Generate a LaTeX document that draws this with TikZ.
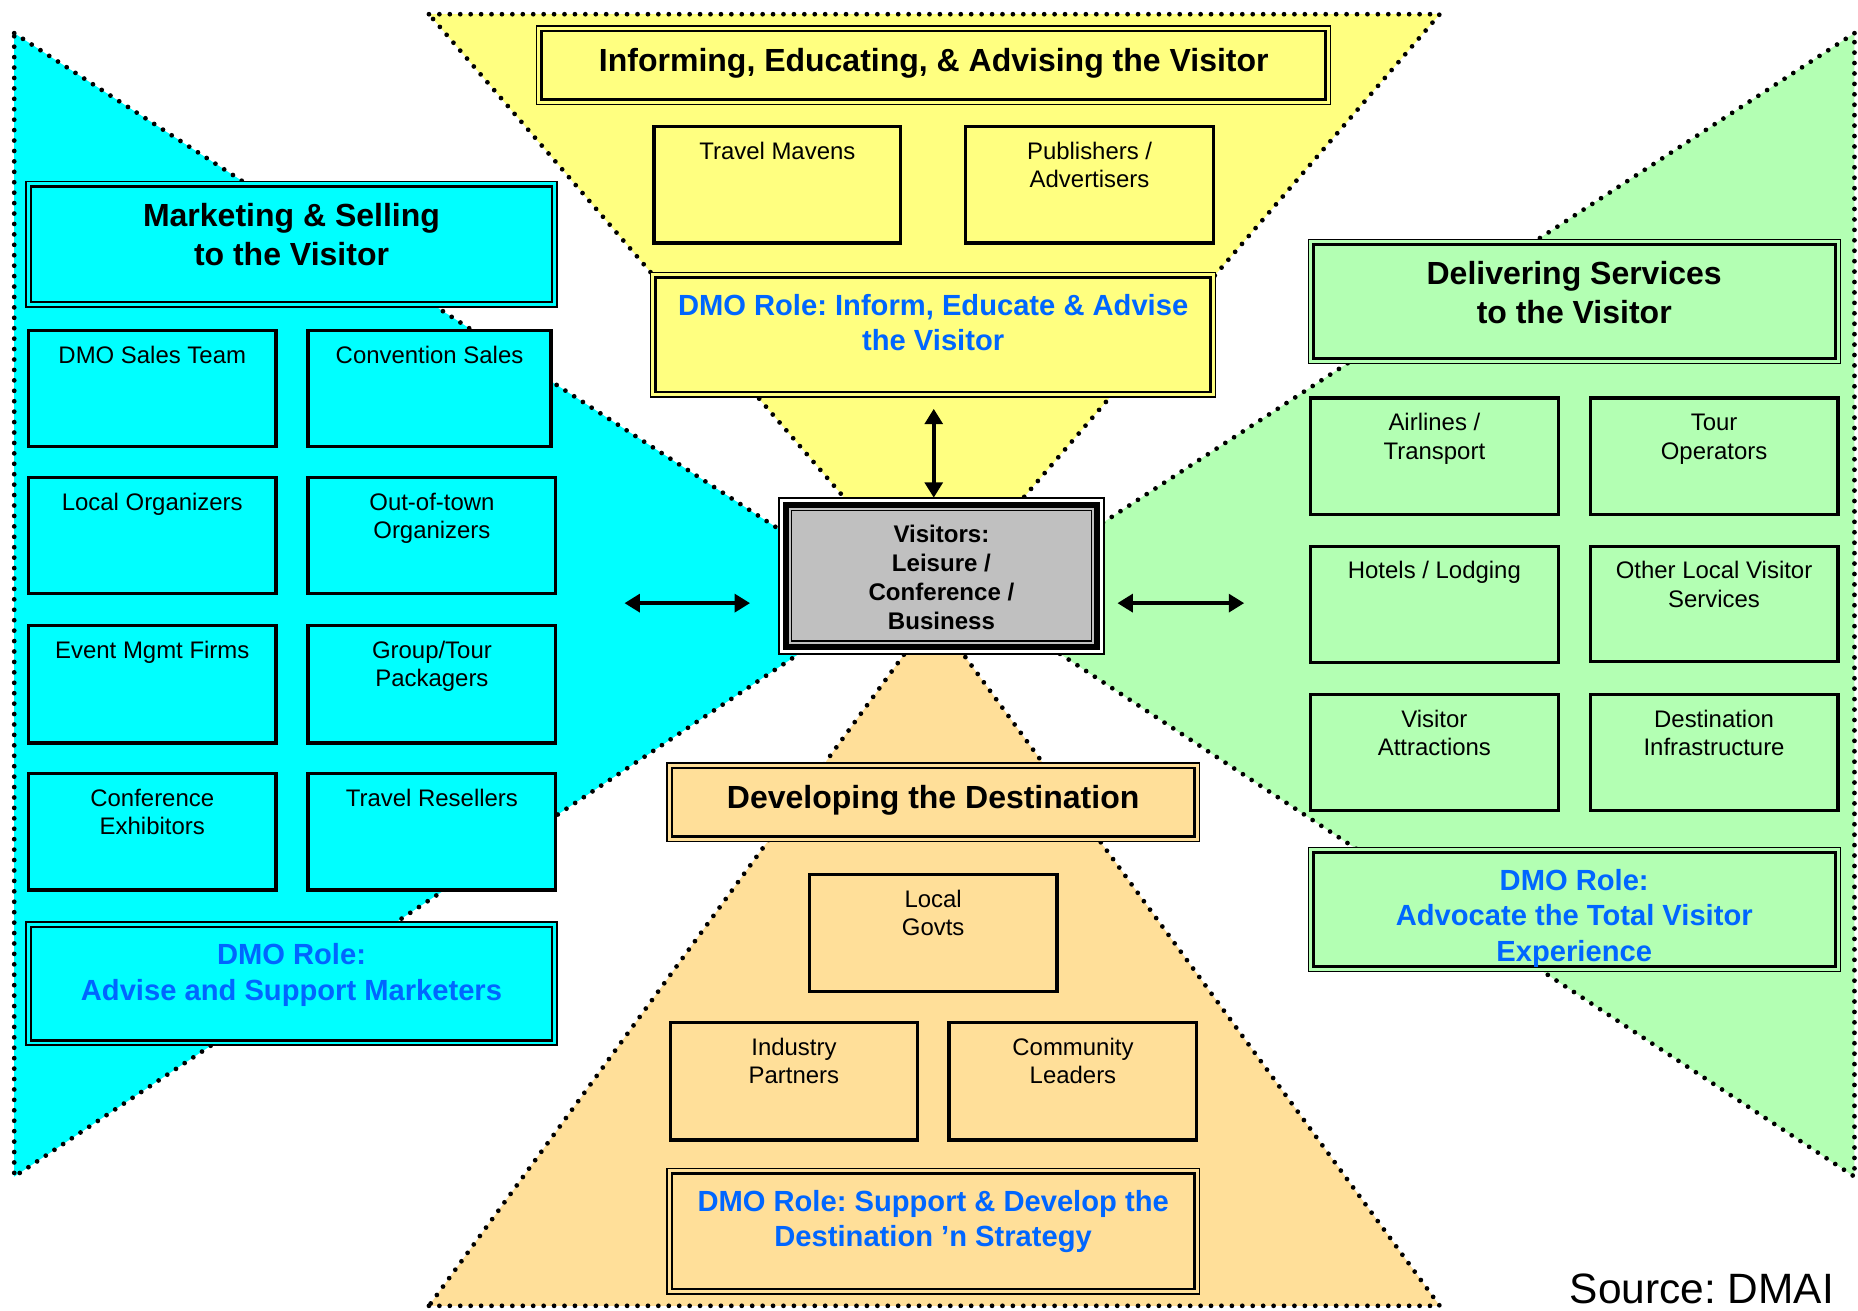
\documentclass[tikz,border=0pt]{standalone}
\usepackage{fontspec}
\setmainfont{Liberation Sans}
\usetikzlibrary{fit,arrows.meta}
\frenchspacing

\definecolor{mcyan}{HTML}{00FFFF}
\definecolor{myellow}{HTML}{FFFF80}
\definecolor{mgreen}{HTML}{B3FFB3}
\definecolor{morange}{HTML}{FFDF99}
\definecolor{mgray}{HTML}{C0C0C0}
\definecolor{mblue}{HTML}{0066FF}

% invisible strut that fixes the height of a first text line
\newcommand\tp{\rule{0pt}{0.9em}}

\tikzset{
  area/.style={draw=black, line width=2pt, line cap=round, dash pattern=on 0pt off 4.4pt},
  smallbox/.style={draw=black, line width=1.4pt, inner sep=0pt, outer sep=0pt},
  dblouter/.style={draw=black, line width=0.55pt, inner sep=0pt, outer sep=0pt},
  dblinner/.style={draw=black, line width=1.15pt},
  smalltxt/.style={anchor=north, align=center, inner sep=0pt, font=\fontsize{10.1}{12}\selectfont},
  headtxt/.style={anchor=north, align=center, inner sep=0pt, font=\fontsize{13.5}{16.3}\selectfont\bfseries},
  roletxt/.style={anchor=north, align=center, inner sep=0pt, text=mblue, font=\fontsize{12.3}{15}\selectfont\bfseries},
  vistxt/.style={anchor=north, align=center, inner sep=0pt, font=\fontsize{10.15}{12.2}\selectfont\bfseries},
  both/.style={line width=1.6pt, {Triangle[length=6.5pt,width=7.5pt]}-{Triangle[length=6.5pt,width=7.5pt]}},
}

% single-framed item box with its label near the top
\newcommand\mkitem[7]{%
  \node[smallbox, fill=#6, fit={(#2,#3)(#4,#5)}] (#1) {};
  \node[smalltxt] (#1-t) at ([yshift=-4.5pt]#1.north) {\tp #7};
}
% thin-thick framed title box; #7 is the text style
\newcommand\mktitle[8]{%
  \node[dblouter, fill=#6, fit={(#2,#3)(#4,#5)}] (#1) {};
  \draw[dblinner] ([shift={(4.2,4.2)}]#1.north west) rectangle ([shift={(-4.2,-4.2)}]#1.south east);
  \node[#7] (#1-t) at ([yshift=-6.8pt]#1.north) {\tp #8};
}

\begin{document}
\begin{tikzpicture}[x=0.5pt,y=-0.5pt]
\useasboundingbox (0,0) rectangle (1568,1106);

% the four sectors
\fill[mcyan]   (12,28) -- (746,504) -- (12,993) -- cycle;
\fill[myellow] (362,12) -- (1215,12) -- (788,508) -- cycle;
\fill[mgreen]  (1565,28) -- (828,508) -- (1565,993) -- cycle;
\fill[morange] (362,1102) -- (1215,1102) -- (788,518) -- cycle;
\draw[area] (12,28) -- (746,504) -- (12,993) -- cycle;
\draw[area] (362,12) -- (1215,12) -- (788,508) -- cycle;
\draw[area] (1565,28) -- (828,508) -- (1565,993) -- cycle;
\draw[area] (362,1102) -- (1215,1102) -- (788,518) -- cycle;

% informing / educating
\mktitle{inf}{453}{22}{1123}{88}{myellow}{headtxt}{Informing, Educating, \& Advising the Visitor}
\mkitem{tm}{552}{107}{760}{205}{myellow}{Travel Mavens}
\mkitem{pub}{815}{107}{1024}{205}{myellow}{Publishers /\\Advertisers}
\mktitle{yrole}{549}{230}{1026}{335}{myellow}{roletxt}{DMO Role: Inform, Educate \& Advise\\the Visitor}

% marketing & selling
\mktitle{mkt}{22}{153}{470}{259}{mcyan}{headtxt}{Marketing \& Selling\\to the Visitor}
\mkitem{dst}{24}{279}{233}{377}{mcyan}{DMO Sales Team}
\mkitem{cvs}{260}{279}{465}{377}{mcyan}{Convention Sales}
\mkitem{lor}{24}{403}{233}{501}{mcyan}{Local Organizers}
\mkitem{oto}{260}{403}{469}{501}{mcyan}{Out-of-town\\Organizers}
\mkitem{emf}{24}{528}{233}{627}{mcyan}{Event Mgmt Firms}
\mkitem{gtp}{260}{528}{469}{627}{mcyan}{Group/Tour\\Packagers}
\mkitem{cex}{24}{653}{233}{751}{mcyan}{Conference\\Exhibitors}
\mkitem{trs}{260}{653}{469}{751}{mcyan}{Travel Resellers}
\mktitle{crole}{22}{778}{470}{882}{mcyan}{roletxt}{DMO Role:\\Advise and Support Marketers}

% delivering services
\mktitle{dlv}{1104}{202}{1553}{307}{mgreen}{headtxt}{Delivering Services\\to the Visitor}
\mkitem{air}{1106}{336}{1315}{434}{mgreen}{Airlines /\\Transport}
\mkitem{tour}{1342}{336}{1551}{434}{mgreen}{Tour\\Operators}
\mkitem{hot}{1106}{461}{1315}{559}{mgreen}{Hotels / Lodging}
\mkitem{olv}{1342}{461}{1551}{558}{mgreen}{Other Local Visitor\\Services}
\mkitem{vat}{1106}{586}{1315}{684}{mgreen}{Visitor\\Attractions}
\mkitem{din}{1342}{586}{1551}{684}{mgreen}{Destination\\Infrastructure}
\mktitle{grole}{1104}{715}{1553}{820}{mgreen}{roletxt}{DMO Role:\\Advocate the Total Visitor\\Experience}

% developing the destination
\mktitle{dev}{563}{644}{1012}{710}{morange}{headtxt}{Developing the Destination}
\mkitem{lgv}{683}{738}{892}{837}{morange}{Local\\Govts}
\mkitem{ipt}{566}{863}{774}{962}{morange}{Industry\\Partners}
\mkitem{cld}{801}{863}{1010}{962}{morange}{Community\\Leaders}
\mktitle{orole}{563}{986}{1012}{1092}{morange}{roletxt}{DMO Role: Support \& Develop the\\Destination ’n Strategy}

% visitors in the middle
\node[draw=black, line width=0.85pt, fill=white, inner sep=0pt, outer sep=0pt,
      fit={(657,420)(932,552)}] (vis) {};
\draw[line width=2.5pt, fill=mgray] ([shift={(6.2,6.2)}]vis.north west) rectangle ([shift={(-6.2,-6.2)}]vis.south east);
\draw[line width=0.6pt] ([shift={(11,11)}]vis.north west) rectangle ([shift={(-11,-11)}]vis.south east);
\node[vistxt] (vis-t) at ([yshift=-9.5pt]vis.north) {\tp Visitors:\\Leisure /\\Conference /\\Business};

% exchanges with the visitor
\coordinate (vup) at (788,345);
\draw[both] (vup) -- (vup |- vis.north);
\coordinate (hl1) at (527,509);
\coordinate (hl2) at (633,509);
\draw[both] (hl1) -- (hl2);
\coordinate (hr1) at (943,509);
\coordinate (hr2) at (1050,509);
\draw[both] (hr1) -- (hr2);

\node[anchor=base east, inner sep=0pt, font=\fontsize{17.9}{20}\selectfont] (src) at (1548,1100) {Source: DMAI};
\end{tikzpicture}
\end{document}
